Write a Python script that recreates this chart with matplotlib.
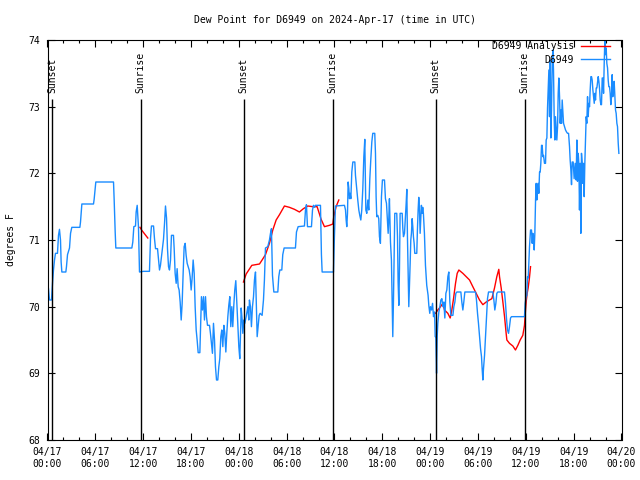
import numpy as np
import pandas as pd
import matplotlib
matplotlib.use('Agg')
from matplotlib import pyplot as plt
import matplotlib.dates as mdates

plt.rcParams['font.family'] = ['DejaVu Sans Mono']

start = pd.Timestamp('2024-04-17 00:00')

# observed dew point (hours since 04/17 00:00 UTC, degrees F)
obs_hours = [0.0, 0.125, 0.25, 0.5, 0.63, 0.75, 0.88, 1.0, 1.25, 1.38, 1.5, 1.63, 1.71, 1.8, 2.3, 2.38,
             2.51, 2.76, 2.89, 3.05, 4.06, 4.14, 4.31, 5.77, 5.85, 5.98, 6.06, 8.28, 8.36, 8.49, 8.57,
             10.58, 10.7, 10.83, 11.04, 11.12, 11.25, 11.33, 11.41, 11.54, 12.04,
             12.79, 12.92, 13.04, 13.3, 13.42, 13.55, 13.8, 13.92, 14.05, 14.17, 14.3, 14.55, 14.68,
             14.8, 14.93, 15.05, 15.18, 15.3, 15.43, 15.55, 15.8, 15.89, 16.01, 16.14, 16.26, 16.39,
             16.51, 16.64, 16.77, 16.89, 17.02, 17.14, 17.27, 17.39, 17.52, 17.77, 17.89, 18.02,
             18.14, 18.27, 18.4, 18.52, 18.65, 18.77, 18.9, 19.11, 19.19, 19.31, 19.44, 19.57, 19.69,
             19.82, 19.94, 20.07, 20.32, 20.44, 20.57, 20.69, 20.82, 20.95, 21.07, 21.2, 21.36, 21.49,
             21.61, 21.74, 21.86, 21.99, 22.12, 22.24, 22.37, 22.49, 22.62, 22.74, 22.87, 22.99,
             23.12, 23.24, 23.37, 23.49, 23.62, 23.75, 23.87, 24.0, 24.12, 24.25,
             24.29, 24.42, 24.5, 24.63, 24.75, 24.92, 25.13, 25.25, 25.33, 25.46, 25.58, 25.71, 25.84,
             25.96, 26.09, 26.17, 26.3, 26.42, 26.55, 26.67, 26.92, 27.09, 27.21, 27.34, 27.63, 27.84,
             27.97, 28.09, 28.22, 28.39, 28.89, 29.01, 29.14, 29.39, 29.51, 29.68, 31.1, 31.23, 31.44,
             32.23, 32.36, 32.48, 32.61, 33.11, 33.24, 33.36, 33.49, 33.61, 34.24, 34.36, 34.45,
             35.87, 35.99, 36.12, 37.25,
             37.38, 37.46, 37.54, 37.63, 37.71, 37.8, 37.88, 37.96, 38.05, 38.17, 38.3, 38.55, 38.63,
             38.8, 38.92, 39.05, 39.17, 39.3, 39.42, 39.55, 39.68, 39.8, 39.93, 40.05, 40.18, 40.3,
             40.43, 40.55, 40.68, 40.8, 41.05, 41.14, 41.22, 41.3, 41.43, 41.55, 41.64, 41.76, 41.89,
             42.01, 42.27, 42.39, 42.52, 42.64, 42.73, 42.81, 42.89, 43.02, 43.14, 43.23, 43.31, 43.4,
             43.48, 43.56, 43.81, 43.9, 43.98, 44.07, 44.15, 44.23, 44.49, 44.57, 44.65, 44.78, 44.9,
             44.99, 45.07, 45.15, 45.24, 45.32, 45.4, 45.49, 45.57, 45.65, 45.74, 45.82, 45.9, 45.99,
             46.07, 46.32, 46.4, 46.49, 46.57, 46.66, 46.74, 46.82, 46.9, 46.99, 47.07, 47.15, 47.28,
             47.41, 47.57, 47.74, 47.83, 47.95, 48.04, 48.17, 48.3, 48.42, 48.55, 48.63, 48.71, 48.8,
             48.88, 48.96, 49.09, 49.22, 49.34, 49.47, 49.59, 49.72, 49.84, 49.97, 50.09, 50.22, 50.34,
             50.47, 50.6, 50.85, 50.97, 51.1, 51.22, 51.35, 51.85, 51.97, 52.1, 52.22, 52.35, 53.69,
             53.81, 53.94, 54.06, 54.19, 54.32, 54.44, 54.52, 54.61, 54.69, 54.82, 54.94, 55.07, 55.19,
             55.32, 55.86, 55.99, 56.11, 56.24, 56.36, 56.49, 57.32, 57.45, 57.57, 57.7, 57.83, 57.95,
             58.08, 58.2, 59.83, 59.92, 60.04, 60.13, 60.21, 60.3, 60.38, 60.46, 60.59, 60.71, 60.8,
             60.88, 60.97, 61.05, 61.13, 61.22, 61.3, 61.38, 61.47, 61.55, 61.63, 61.72, 61.8, 61.88,
             61.97, 62.05, 62.14, 62.22, 62.34, 62.47, 62.55, 62.64, 62.72, 62.8, 62.89, 62.97, 63.06,
             63.14, 63.22, 63.31, 63.39, 63.47, 63.56, 63.64, 63.72, 63.81, 63.89, 63.98, 64.06, 64.14,
             64.23, 64.31, 64.4, 64.48, 64.56, 64.65, 64.73, 64.86, 64.98, 65.11, 65.23, 65.36, 65.48,
             65.56, 65.65, 65.73, 65.81, 65.94, 66.06, 66.19, 66.31, 66.4, 66.48, 66.57, 66.65, 66.73,
             66.82, 66.9, 66.98, 67.07, 67.15, 67.24, 67.32, 67.4, 67.49, 67.57, 67.65, 67.74, 67.82,
             67.91, 67.99, 68.07, 68.16, 68.24, 68.32, 68.41, 68.49, 68.58, 68.66, 68.74, 68.83, 68.91,
             69.08, 69.16, 69.24, 69.33, 69.41, 69.49, 69.58, 69.66, 69.75, 69.83, 69.91, 70.0, 70.08,
             70.16, 70.25, 70.33, 70.41, 70.5, 70.58, 70.66, 70.75, 70.83, 70.91, 71.0, 71.08, 71.17,
             71.25, 71.33, 71.42, 71.5, 71.59, 71.67]
obs_dewpt = [70.35, 70.27, 70.1, 70.1, 70.35, 70.55, 70.7, 70.8, 70.8, 71.07, 71.16, 71.0, 70.67, 70.52,
             70.52, 70.6, 70.78, 70.88, 71.1, 71.19, 71.19, 71.27, 71.54, 71.54, 71.61, 71.78, 71.87,
             71.87, 71.61, 71.12, 70.88, 70.88, 70.97, 71.2, 71.21, 71.42, 71.52, 71.35, 71.2, 70.52,
             70.53,
             70.53, 71.02, 71.21, 71.21, 71.02, 70.87, 70.87, 70.72, 70.55, 70.62, 70.75, 71.01, 71.25,
             71.51, 71.33, 70.87, 70.6, 70.55, 70.7, 71.07, 71.07, 70.87, 70.5, 70.35, 70.57, 70.3,
             70.25, 70.07, 69.8, 70.05, 70.52, 70.9, 70.95, 70.77, 70.65, 70.55, 70.45, 70.25, 70.43,
             70.7, 70.5, 70.0, 69.65, 69.5, 69.31, 69.31, 69.65, 70.15, 69.95, 70.15, 69.8, 70.15,
             69.85, 69.72, 69.72, 69.6, 69.45, 69.3, 69.75, 69.5, 69.1, 68.9, 68.9, 69.1, 69.22,
             69.55, 69.65, 69.4, 69.72, 69.6, 69.32, 69.6, 69.85, 70.02, 70.15, 69.7, 70.0, 69.7,
             70.02, 70.25, 70.39, 70.05, 69.7, 69.4, 69.22, 69.75,
             69.98, 69.8, 69.6, 69.8, 69.75, 69.85, 70.0, 69.8, 70.1, 70.0, 69.7, 70.0, 70.15, 70.4,
             70.52, 70.15, 69.55, 69.7, 69.87, 69.9, 69.87, 70.1, 70.4, 70.88, 70.9, 71.0, 71.1, 71.17,
             70.47, 70.22, 70.22, 70.45, 70.55, 70.55, 70.78, 70.88, 70.88, 71.12, 71.2, 71.21, 71.45,
             71.53, 71.2, 71.2, 71.45, 71.52, 71.49, 71.52, 71.52, 70.78, 70.52, 70.52, 71.05, 71.51,
             71.52,
             71.45, 71.3, 71.2, 71.4, 71.87, 71.77, 71.62, 71.7, 71.62, 72.02, 72.17, 72.17, 71.97,
             71.75, 71.6, 71.45, 71.37, 71.3, 71.45, 71.77, 72.25, 72.51, 71.45, 71.4, 71.6, 71.45,
             71.92, 72.2, 72.47, 72.6, 72.6, 72.3, 71.65, 71.35, 71.37, 71.32, 71.05, 70.95, 71.65,
             71.9, 71.9, 71.62, 71.55, 71.3, 71.1, 71.32, 71.62, 70.97, 70.7, 70.12, 69.55, 70.12,
             70.8, 71.4, 71.4, 71.05, 70.37, 70.02, 70.57, 71.4, 71.4, 71.17, 71.05, 71.1, 71.35,
             71.55, 71.76, 71.05, 70.45, 70.0, 70.3, 70.65, 71.0, 71.1, 71.32, 71.2, 71.05, 70.95,
             70.8, 70.8, 71.15, 71.45, 71.64, 71.45, 71.1, 71.3, 71.52, 71.4, 71.49, 71.4, 71.1,
             70.62, 70.32, 70.17, 70.02, 69.9, 70.0, 69.95, 70.05, 69.85, 69.92, 69.55, 69.55, 69.0,
             69.55, 69.75, 69.92, 70.0, 70.1, 70.12, 70.0, 70.07, 69.83, 70.2, 70.25, 70.45, 70.52,
             70.07, 69.87, 69.87, 70.0, 70.07, 70.2, 70.22, 70.22, 70.07, 69.95, 70.07, 70.22, 70.22,
             70.1, 69.9, 69.75, 69.55, 69.37, 69.25, 69.07, 68.9, 69.07, 69.27, 69.55, 69.83, 70.12,
             70.22, 70.22, 70.1, 69.95, 70.05, 70.2, 70.22, 70.22, 70.05, 69.83, 69.65, 69.6, 69.7,
             69.83, 69.85, 69.85, 70.05, 70.15, 70.17, 70.45, 70.43, 70.65, 70.9, 71.15, 71.15, 70.95,
             71.1, 71.05, 70.85, 71.1, 71.6, 71.85, 71.6, 71.75, 71.85, 71.7, 72.02, 72.02, 72.15,
             72.42, 72.42, 72.25, 72.27, 72.15, 72.15, 72.5, 72.53, 72.98, 73.25, 73.55, 72.85, 73.7,
             72.53, 72.95, 73.67, 73.85, 73.55, 72.8, 72.5, 72.85, 72.65, 72.5, 72.7, 73.2, 73.43,
             73.15, 72.75, 72.95, 72.75, 73.1, 72.9, 72.75, 72.7, 72.65, 72.62, 72.6, 72.6, 72.4,
             72.2, 72.05, 71.83, 72.17, 72.17, 71.92, 72.15, 71.9, 72.5, 71.88, 72.3, 72.15, 71.45,
             72.15, 71.1, 72.3, 72.15, 71.85, 72.15, 71.65, 72.15, 72.5, 72.85, 72.75, 73.15, 72.85,
             73.05, 73.0, 73.25, 73.45, 73.45, 73.4, 73.25, 73.15, 73.05, 73.2, 73.1, 73.28, 73.28,
             73.45, 73.38, 73.28, 73.1, 73.03, 73.03, 73.43, 73.43, 73.2, 73.65, 74.0, 73.78, 73.88,
             73.65, 73.58, 73.4, 73.3, 73.3, 73.2, 73.03, 73.15, 73.48, 73.15, 73.3, 73.38, 73.15,
             72.95, 72.9, 72.75, 72.7, 72.45, 72.3]

# analysis, three separate pieces
ana_hours = [
    [11.6, 11.8, 12.58],
    [24.58, 24.92, 25.63, 26.59, 26.92, 27.34, 27.84, 28.26, 28.68, 29.1, 29.72, 30.35, 30.98,
     31.6, 32.1, 32.65, 33.28, 33.82, 34.32, 34.74, 35.37, 35.79, 35.91, 36.2, 36.54],
    [48.67, 48.96, 49.3, 49.59, 49.8, 50.22, 50.51, 50.68, 50.93, 51.18, 51.39, 51.6, 52.1, 52.52,
     52.94, 53.35, 53.77, 54.19, 54.61, 55.03, 55.44, 55.74, 56.07, 56.36, 56.61, 56.7, 56.91,
     57.12, 57.33, 57.53, 57.62, 57.95, 58.37, 58.7, 59.0, 59.29, 59.62, 59.83, 59.96, 60.04,
     60.17, 60.29, 60.45, 60.59],
]
ana_dewpt = [
    [71.19, 71.15, 71.03],
    [70.37, 70.49, 70.62, 70.64, 70.7, 70.78, 70.95, 71.15, 71.3, 71.38, 71.51, 71.49, 71.46,
     71.42, 71.47, 71.51, 71.5, 71.5, 71.31, 71.2, 71.22, 71.24, 71.35, 71.5, 71.6],
    [69.9, 69.95, 70.0, 70.05, 69.95, 69.9, 69.83, 69.92, 70.12, 70.35, 70.5, 70.55, 70.5, 70.45,
     70.4, 70.3, 70.2, 70.1, 70.03, 70.07, 70.1, 70.12, 70.28, 70.45, 70.56, 70.45, 70.28,
     70.07, 69.85, 69.6, 69.5, 69.45, 69.41, 69.35, 69.42, 69.5, 69.57, 69.72, 69.95, 70.07,
     70.2, 70.28, 70.43, 70.6],
]

sun_hours = [0.55, 11.7, 24.62, 35.79, 48.71, 59.87]
sun_labels = ['Sunset', 'Sunrise', 'Sunset', 'Sunrise', 'Sunset', 'Sunrise']


def to_time(hrs):
    return start + pd.to_timedelta(np.array(hrs), unit='h')


fig = plt.figure(figsize=(6.4, 4.8), dpi=100)
ax = fig.add_axes([47.5 / 640, 40 / 480, 574 / 640, 400 / 480])

for i, (h, v) in enumerate(zip(ana_hours, ana_dewpt)):
    ax.plot(to_time(h), v, color='#ff0000', lw=1.0,
            label='D6949 Analysis' if i == 0 else None)
ax.plot(to_time(obs_hours), obs_dewpt, color='#1a8cff', lw=1.0, label='D6949')

for h, lab in zip(sun_hours, sun_labels):
    t = to_time([h])[0]
    ax.vlines(t, 68, 73.11, color='black', lw=1.0)
    ax.text(t, 73.21, lab, rotation=90, ha='center', va='bottom', fontsize=7)

ax.set_xlim(start, start + pd.Timedelta(hours=72))
ax.set_ylim(68, 74)
ax.set_yticks(range(68, 75))
ax.xaxis.set_major_locator(mdates.HourLocator(byhour=[0, 6, 12, 18]))
ax.xaxis.set_minor_locator(mdates.HourLocator(byhour=range(0, 24, 2)))
ax.xaxis.set_major_formatter(mdates.DateFormatter('%m/%d\n%H:%M'))
ax.tick_params(which='both', direction='in', top=True, right=True, labelsize=7, width=0.8)
ax.tick_params(which='major', length=5, pad=5)
ax.tick_params(which='minor', length=2.5)
for s in ax.spines.values():
    s.set_linewidth(0.8)

ax.set_ylabel('degrees F', fontsize=7, labelpad=9)
ax.set_title('Dew Point for D6949 on 2024-Apr-17 (time in UTC)', fontsize=7, pad=12)
ax.legend(loc='upper right', bbox_to_anchor=(0.98, 0.997), frameon=False, markerfirst=False,
          fontsize=7, handlelength=3.0, handletextpad=0.7, labelspacing=0.35, borderpad=0,
          borderaxespad=0)

plt.savefig('out.png', dpi=100)
